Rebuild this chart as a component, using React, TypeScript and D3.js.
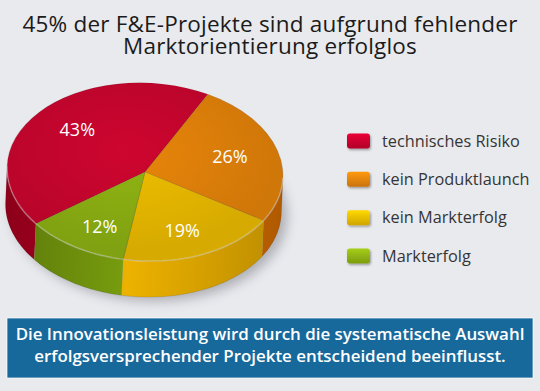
import React from "react";
import * as d3 from "d3";

const W = 540;
const H = 391;

const titleLines = ["45% der F&E-Projekte sind aufgrund fehlender", "Marktorientierung erfolglos"];
const categories = ["technisches Risiko", "kein Produktlaunch", "kein Markterfolg", "Markterfolg"];
const shares = [43, 26, 19, 12];
const labels = ["43%", "26%", "19%", "12%"];
const topColors = ["#c5052d", "#df800a", "#e6b700", "#8aad12"];
const sideColors = ["#a1001e", "#c46400", "#d19d00", "#6a8b0c"];
const footerLines = [
  "Die Innovationsleistung wird durch die systematische Auswahl",
  "erfolgsversprechender Projekte entscheidend beeinflusst.",
];

// pie geometry
const cx = 145;
const cy = 172;
const rx = 138;
const ry = 89;
const depth = 36;
const tilt = 2.5; // degrees
const startAngle = (-129.3 * Math.PI) / 180;

const font = "'Open Sans', 'Noto Sans', sans-serif";

const pt = (a: number, dy = 0): [number, number] => [cx + rx * Math.sin(a), cy - ry * Math.cos(a) + dy];

// clip an angle range to the front half of the pie (where the side wall is visible)
const frontParts = (a0: number, a1: number) => {
  const parts: [number, number][] = [];
  for (const k of [-1, 0, 1]) {
    const lo = Math.max(a0, Math.PI / 2 + 2 * Math.PI * k);
    const hi = Math.min(a1, (3 * Math.PI) / 2 + 2 * Math.PI * k);
    if (hi > lo) parts.push([lo, hi]);
  }
  return parts;
};

const sidePath = (a0: number, a1: number) => {
  const n = 40;
  const top = d3.range(n + 1).map((i) => pt(a0 + ((a1 - a0) * i) / n));
  const bottom = d3.range(n + 1).map((i) => pt(a1 - ((a1 - a0) * i) / n, depth));
  return d3.line()([...top, ...bottom]) + "Z";
};

const rot = ([x, y]: [number, number]): [number, number] => {
  const t = (tilt * Math.PI) / 180;
  const dx = x - cx;
  const dy = y - cy;
  return [cx + dx * Math.cos(t) - dy * Math.sin(t), cy + dx * Math.sin(t) + dy * Math.cos(t)];
};

export default function App() {
  const arcs = d3
    .pie<number>()
    .sort(null)
    .startAngle(startAngle)
    .endAngle(startAngle + 2 * Math.PI)(shares);

  const topArc = d3.arc<d3.PieArcDatum<number>>().innerRadius(0).outerRadius(rx);

  const legendY = d3.scalePoint<string>().domain(categories).range([141, 256]);

  return (
    <svg width={W} height={H} style={{ position: "absolute", left: 0, top: 0 }}>
      <defs>
        <filter id="blur" x="-20%" y="-20%" width="140%" height="140%">
          <feGaussianBlur stdDeviation="6" />
        </filter>
        <filter id="swShadow" x="-30%" y="-30%" width="160%" height="180%">
          <feDropShadow dx="1" dy="1.5" stdDeviation="1" floodColor="#000" floodOpacity="0.35" />
        </filter>
        {topColors.map((c, i) => (
          <radialGradient key={"t" + i} id={"top" + i} gradientUnits="userSpaceOnUse" cx="-20" cy="-30" r={rx * 1.1}>
            <stop offset="0%" stopColor={d3.color(c)!.brighter(0.12).formatHex()} />
            <stop offset="100%" stopColor={d3.color(c)!.darker(0.2).formatHex()} />
          </radialGradient>
        ))}
        {sideColors.map((c, i) => (
          <linearGradient key={"s" + i} id={"side" + i} gradientUnits="userSpaceOnUse" x1={cx - rx} x2={cx + rx} y1="0" y2="0">
            <stop offset="0%" stopColor={d3.color(c)!.darker(0.4).formatHex()} />
            <stop offset="45%" stopColor={d3.color(c)!.brighter(0.35).formatHex()} />
            <stop offset="100%" stopColor={d3.color(c)!.darker(0.3).formatHex()} />
          </linearGradient>
        ))}
        {topColors.map((c, i) => (
          <linearGradient key={"l" + i} id={"leg" + i} x1="0" x2="0" y1="0" y2="1">
            <stop offset="0%" stopColor={d3.color(c)!.brighter(0.5).formatHex()} />
            <stop offset="100%" stopColor={d3.color(c)!.darker(0.3).formatHex()} />
          </linearGradient>
        ))}
      </defs>

      <rect width={W} height={H} fill="#e9eaee" />

      <g fontFamily={font} fontSize={22.5} fontWeight={500} letterSpacing={0.2} fill="#1b1b1b" textAnchor="middle">
        {titleLines.map((t, i) => (
          <text key={i} x={W / 2} y={32 + i * 22}>
            {t}
          </text>
        ))}
      </g>

      <g transform={`rotate(${tilt},${cx},${cy})`}>
        <ellipse cx={cx + 6} cy={cy + depth + 4} rx={rx} ry={ry} fill="#40404a" opacity={0.35} filter="url(#blur)" />
        {arcs.map((a, i) =>
          frontParts(a.startAngle, a.endAngle).map((p, j) => (
            <path key={i + "-" + j} d={sidePath(p[0], p[1])} fill={`url(#side${i})`} />
          ))
        )}
        <path
          d={sidePath(Math.PI / 2, (3 * Math.PI) / 2)}
          fill="none"
          stroke="#000"
          strokeOpacity={0.12}
          strokeWidth={0.8}
        />
        <g transform={`translate(${cx},${cy}) scale(1,${ry / rx})`}>
          {arcs.map((a, i) => (
            <path key={i} d={topArc(a)!} fill={`url(#top${i})`} stroke="#000" strokeOpacity={0.12} strokeWidth={1} />
          ))}
        </g>
        <path
          d={d3.line()(d3.range(61).map((k) => pt(Math.PI / 2 + (Math.PI * k) / 60)))!}
          fill="none"
          stroke="#fff"
          strokeOpacity={0.35}
          strokeWidth={1.5}
        />
      </g>

      <g fontFamily={font} fontSize={18} fontWeight={500} fill="#fff" textAnchor="middle">
        {arcs.map((a, i) => {
          const m = (a.startAngle + a.endAngle) / 2;
          const [x, y] = rot([cx + rx * 0.64 * Math.sin(m), cy - ry * 0.72 * Math.cos(m)]);
          return (
            <text key={i} x={x} y={y} dy="0.36em">
              {labels[i]}
            </text>
          );
        })}
      </g>

      <g fontFamily={font} fontSize={16.3} fill="#353535">
        {categories.map((c, i) => (
          <g key={c} transform={`translate(0,${legendY(c)})`}>
            <rect x={347} y={-7.5} width={23} height={15} rx={3} fill={`url(#leg${i})`} filter="url(#swShadow)" />
            <text x={382} dy="0.35em">
              {c}
            </text>
          </g>
        ))}
      </g>

      <rect x={7} y={318} width={526} height={60} fill="#17699c" stroke="#fff" strokeOpacity={0.7} strokeWidth={1} />
      <g fontFamily={font} fontSize={16.9} fontWeight={600} fill="#fff" textAnchor="middle">
        {footerLines.map((t, i) => (
          <text key={i} x={W / 2} y={340 + i * 22}>
            {t}
          </text>
        ))}
      </g>
    </svg>
  );
}
